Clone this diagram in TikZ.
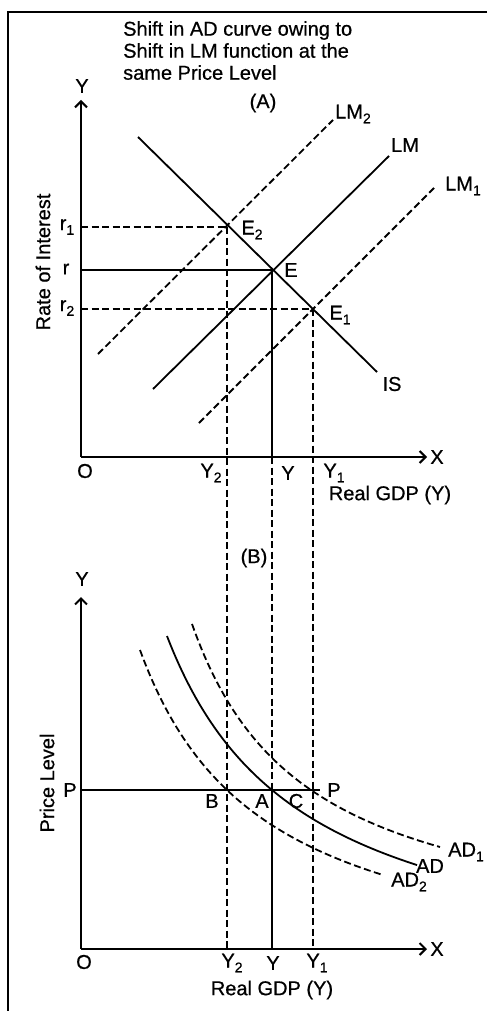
\documentclass[tikz,border=0pt]{standalone}
\usepackage{fontspec}
\setmainfont{Liberation Sans}[FakeBold=0.6]
\usetikzlibrary{arrows.meta}
\newcommand{\lsub}[1]{\raisebox{-0.45ex}{\fontsize{14}{14}\selectfont #1}}
\begin{document}
\begin{tikzpicture}[x=1pt,y=-1pt,
  every node/.style={font=\fontsize{20}{22}\selectfont, inner sep=0pt},
  ln/.style={line width=1.8pt},
  dsh/.style={line width=1.8pt, dash pattern=on 7pt off 3.5pt},
  axis/.style={line width=2pt, -{Straight Barb[length=6pt,width=12pt,line width=2pt]}},
  frame/.style={line width=2.6pt}]
\useasboundingbox (0,0) rectangle (487,1011);
% frame
\coordinate (f1) at (487,12); \coordinate (f2) at (8,12); \coordinate (f3) at (8,1011);
\draw[frame] (f1) -- (f2) -- (f3);
% title
\node[anchor=north west, align=left] (title) at (123,21) {Shift in AD curve owing to\\Shift in LM function at the\\same Price Level};
\node (lA) at (263,103) {(A)};
% ---------- panel A ----------
\coordinate (OA) at (81,457);
\coordinate (YA) at (81,100);
\coordinate (XA) at (427,457);
\draw[axis] (OA) -- (YA);
\draw[axis] (OA) -- (XA);
\node (YAl) at (82,86) {Y};
\node (XAl) at (437,457) {X};
\node (OAl) at (85,471) {O};
\node[rotate=90] (roi) at (43,262) {Rate of Interest};
% points
\coordinate (E2) at (227,227);
\coordinate (E) at (272,270);
\coordinate (E1) at (313,309);
\coordinate (r1) at (81,227);
\coordinate (r) at (81,270);
\coordinate (r2) at (81,309);
\coordinate (y2A) at (227,457);
\coordinate (yA) at (272,457);
\coordinate (y1A) at (313,457);
% IS
\coordinate (IS0) at (138,137); \coordinate (IS1) at (377,372);
\draw[ln] (IS0) -- (IS1);
\node (ISl) at (392,384) {IS};
% LM curves
\coordinate (LM0) at (153,389); \coordinate (LMe) at (389,156);
\draw[ln] (LM0) -- (LMe);
\coordinate (LMb0) at (98,354); \coordinate (LMb1) at (333,120);
\draw[dsh] (LMb0) -- (LMb1);
\coordinate (LMa0) at (199,423); \coordinate (LMa1) at (435,187);
\draw[dsh] (LMa0) -- (LMa1);
\node (LM2l) at (353,114) {LM\lsub{2}};
\node (LMl) at (405,145) {LM};
\node (LM1l) at (463,186) {LM\lsub{1}};
% horizontal guides
\draw[dsh] (r1) -- (E2);
\draw[ln] (r) -- (E);
\draw[dsh] (r2) -- (E1);
\node (r1l) at (67,227) {r\lsub{1}};
\node (rl) at (66,269) {r};
\node (r2l) at (67,308) {r\lsub{2}};
\node (E2l) at (252,230) {E\lsub{2}};
\node (El) at (291,270) {E};
\node (E1l) at (340,315) {E\lsub{1}};
% axis labels A
\node (Y2Al) at (211,473) {Y\lsub{2}};
\node (YAl2) at (288,473) {Y};
\node (Y1Al) at (334,473) {Y\lsub{1}};
\node (gdpA) at (390,495) {Real GDP (Y)};
% ---------- panel B ----------
\node (lB) at (254,558) {(B)};
\coordinate (OB) at (81,949);
\coordinate (YB) at (81,597);
\coordinate (XB) at (427,949);
\draw[axis] (OB) -- (YB);
\draw[axis] (OB) -- (XB);
\node (YBl) at (82,579) {Y};
\node (XBl) at (437,949) {X};
\node (OBl) at (84,962) {O};
\node[rotate=90] (pl) at (47,783) {Price Level};
\coordinate (P0) at (81,790);
\coordinate (P1) at (320,790);
\coordinate (B) at (227,790);
\coordinate (A) at (272,790);
\coordinate (C) at (313,790);
\coordinate (y2B) at (227,949);
\coordinate (yB) at (272,949);
\coordinate (y1B) at (313,949);
\draw[ln] (P0) -- (P1);
\node (Pl) at (70,790) {P};
\node (Pr) at (334,790) {P};
\node (Bl) at (212,801) {B};
\node (Al) at (262,801) {A};
\node (Cl) at (296,801) {C};
% vertical guides
\draw[dsh] (E2) -- (y2B);
\draw[dsh] (E1) -- (y1B);
\draw[ln] (E) -- (yA);
\draw[dsh] (yA) -- (A);
\draw[ln] (A) -- (yB);
% AD curves
\draw[dsh] plot[domain=192:440, samples=80] (\x, {950.4-375.38/((\x-77.0)/100)});
\draw[ln] plot[domain=167:417, samples=80] (\x, {989.8-481.82/((\x-30.8)/100)});
\draw[dsh] plot[domain=140:383, samples=80] (\x, {990.2-423.19/((\x-15.6)/100)});
\node (AD1l) at (466,852) {AD\lsub{1}};
\node (ADl) at (430,866) {AD};
\node (AD2l) at (409,882) {AD\lsub{2}};
\node (Y2Bl) at (232,963) {Y\lsub{2}};
\node (YBl2) at (273,963) {Y};
\node (Y1Bl) at (317,963) {Y\lsub{1}};
\node (gdpB) at (272,990) {Real GDP (Y)};
\end{tikzpicture}
\end{document}
